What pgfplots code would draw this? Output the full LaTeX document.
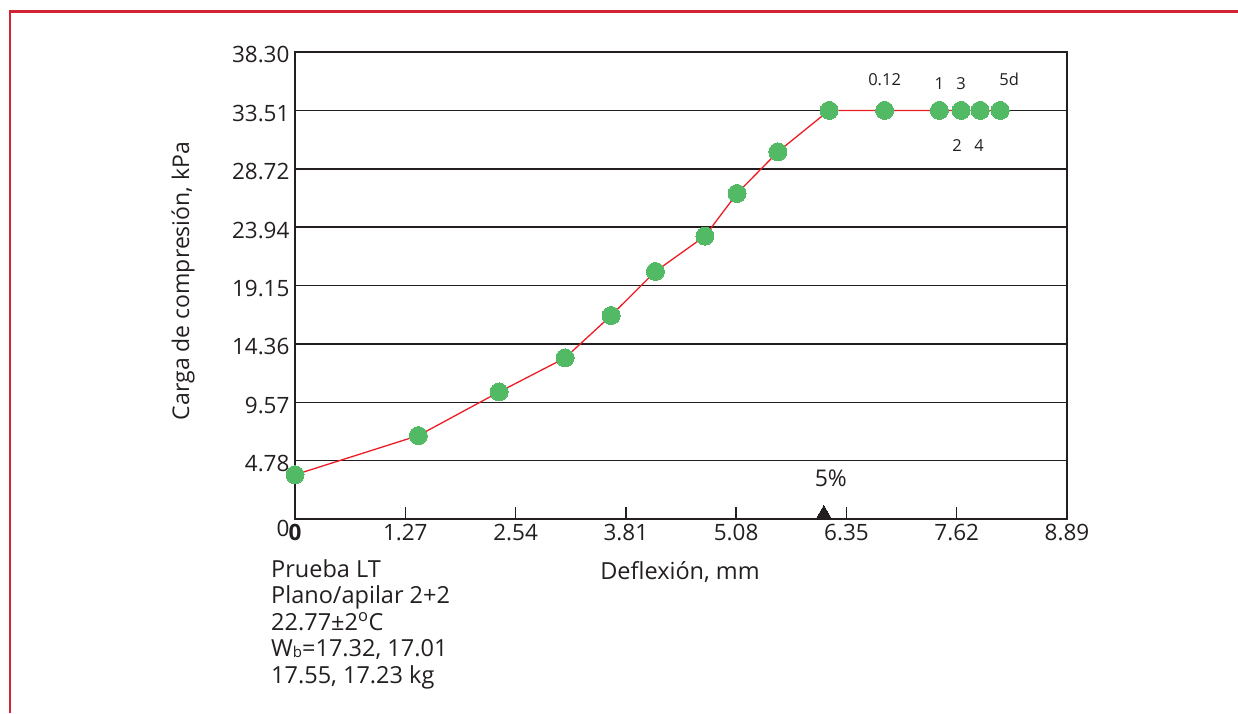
\documentclass[border=0pt]{standalone}
\usepackage{fontspec}
\setmainfont{Open Sans}
\usepackage{pgfplots}
\pgfplotsset{compat=1.18}
\definecolor{framec}{RGB}{210,35,50}
\definecolor{ptgreen}{RGB}{82,186,100}
\definecolor{lnred}{RGB}{237,28,36}
\definecolor{gridc}{RGB}{35,31,32}
\begin{document}
\begin{tikzpicture}[x=1pt,y=1pt]
\path[use as bounding box] (0,0) rectangle (1238,713);
\draw[framec, line width=2.2pt] (10,0) -- (10,701.5) -- (1238,701.5);
\begin{axis}[
  at={(295pt,194pt)}, anchor=south west,
  scale only axis, width=772pt, height=467pt,
  xmin=0, xmax=8.89, ymin=0, ymax=38.30,
  clip=false,
  /pgf/number format/assume math mode=true,
  axis line style={gridc, line width=1.5pt},
  xtick={0,1.27,2.54,3.81,5.08,6.35,7.62,8.89},
  xticklabels={\textbf{0},1.27,2.54,3.81,5.08,6.35,7.62,8.89},
  xtick pos=bottom, xtick align=inside,
  major tick length=12pt,
  xtick style={gridc, line width=1.5pt},
  ytick={4.78,9.57,14.36,19.15,23.94,28.72,33.51,38.30},
  yticklabels={4.78,9.57,14.36,19.15,23.94,28.72,33.51,38.30},
  ytick style={draw=none},
  ymajorgrids, major grid style={gridc, line width=1.5pt},
  extra y ticks={0}, extra y tick labels={0},
  extra y tick style={grid=none, yticklabel style={yshift=-6pt}},
  tick label style={font=\fontsize{22.5}{26}\selectfont, text=gridc},
  yticklabel style={yshift=-3pt, xshift=-2pt},
  xticklabel style={yshift=-2pt},
]
\addplot[lnred, line width=1.3pt, mark=*, mark size=9pt,
  mark options={draw=ptgreen, fill=ptgreen, line width=0pt}] coordinates {
  (0,3.63) (1.42,6.84) (2.35,10.42) (3.11,13.21) (3.64,16.69)
  (4.15,20.30) (4.72,23.20) (5.09,26.70) (5.56,30.11) (6.15,33.51)
  (6.79,33.51) (7.42,33.51) (7.67,33.51) (7.89,33.51) (8.12,33.51)
};
\addplot[only marks, mark=triangle*, mark size=9pt,
  mark options={fill=gridc, draw=gridc, line width=0pt, yshift=4.5pt}] coordinates {(6.09,0)};
\begin{scope}[every node/.style={font=\fontsize{16.5}{18}\selectfont, text=gridc}]
\node at (axis cs:6.79,33.51) [yshift=30.7pt] {0.12};
\node at (axis cs:7.42,33.51) [yshift=26.7pt] {1};
\node at (axis cs:7.67,33.51) [yshift=26.7pt] {3};
\node at (axis cs:8.12,33.51) [yshift=30.7pt, xshift=9pt] {5d};
\node at (axis cs:7.67,33.51) [yshift=-35.3pt, xshift=-4pt] {2};
\node at (axis cs:7.89,33.51) [yshift=-35.3pt, xshift=-1pt] {4};
\end{scope}
\node[font=\fontsize{23}{26}\selectfont, text=gridc] at (axis cs:6.09,0) [xshift=7pt, yshift=41pt] {5\%};
\end{axis}
\node[font=\fontsize{23.5}{26}\selectfont, text=gridc] at (680,141) {Deflexión, mm};
\node[font=\fontsize{23}{26}\selectfont, text=gridc, rotate=90] at (183,432) {Carga de compresión, kPa};
\node[font=\fontsize{23.5}{26.6}\selectfont, text=gridc, anchor=north west, align=left, inner sep=0pt] at (271,154)
{Prueba LT\\Plano/apilar 2+2\\22.77±2\textsuperscript{o}C\\W{\fontsize{15}{15}\selectfont\raisebox{-1pt}{b}}=17.32, 17.01\\17.55, 17.23 kg};
\end{tikzpicture}
\end{document}
